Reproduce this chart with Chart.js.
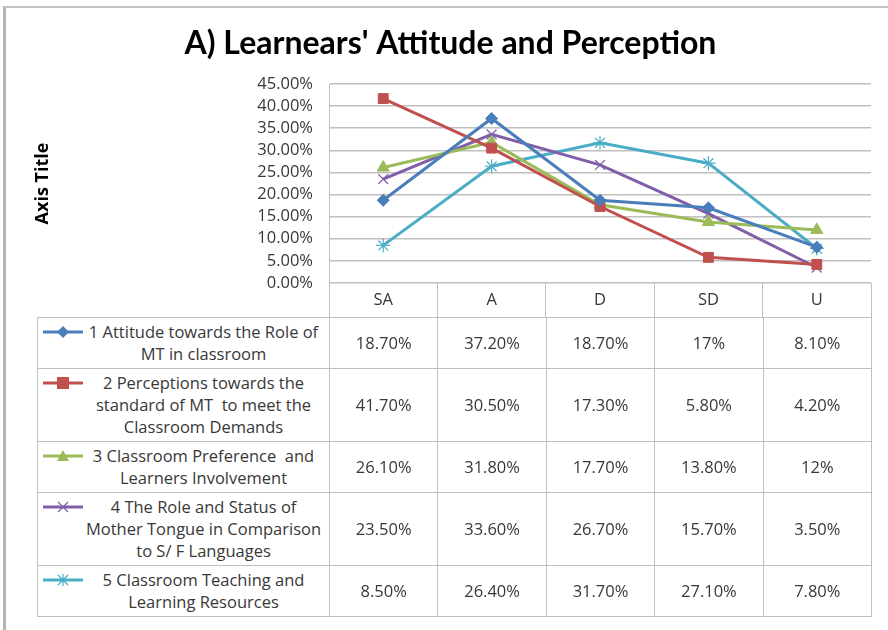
<!DOCTYPE html>
<html>
<head>
<meta charset="utf-8">
<script src="https://cdn.jsdelivr.net/npm/chart.js@4.4.1/dist/chart.umd.min.js"></script>
<style>
  html, body { margin: 0; padding: 0; background: #fff; }
  #wrap { position: relative; width: 888px; height: 630px; overflow: hidden; }
  #frame { position: absolute; left: 3px; top: 6px; width: 900px; height: 640px;
           border-left: 3px solid #b4b4b4; border-top: 2px solid #c4c4c4; box-sizing: border-box; }
  #chart { position: absolute; left: 0; top: 0; }
  #tbl { position: absolute; border-collapse: collapse; table-layout: fixed;
         font-family: "Open Sans", sans-serif; font-size: 16.5px; color: #383838; }
  #tbl td { border: 1px solid #c0c0c0; text-align: center; vertical-align: middle;
            line-height: 22px; padding: 3px 0; background: #fff; white-space: pre; }
  #tbl td.lab { position: relative; padding-left: 42px; padding-right: 2px; }
  #tbl td.lab svg { position: absolute; left: 5px; top: 7px; }
</style>
</head>
<body>
<div id="wrap">
  <div id="frame"></div>
  <canvas id="chart" width="888" height="630"></canvas>
  <table id="tbl"></table>
</div>
<script>
// categories and series
const categories = ['SA', 'A', 'D', 'SD', 'U'];
const seriesNames = [
  ['1 Attitude towards the Role of', 'MT in classroom'],
  ['2 Perceptions towards the', 'standard of MT  to meet the', 'Classroom Demands'],
  ['3 Classroom Preference  and', 'Learners Involvement'],
  ['4 The Role and Status of', 'Mother Tongue in Comparison', 'to S/ F Languages'],
  ['5 Classroom Teaching and', 'Learning Resources']
];
const attitudeRole = [18.7, 37.2, 18.7, 17, 8.1];
const perceptionStandard = [41.7, 30.5, 17.3, 5.8, 4.2];
const classroomPreference = [26.1, 31.8, 17.7, 13.8, 12];
const roleStatus = [23.5, 33.6, 26.7, 15.7, 3.5];
const teachingResources = [8.5, 26.4, 31.7, 27.1, 7.8];
// table text as printed
const tableText = [
  ['18.70%', '37.20%', '18.70%', '17%', '8.10%'],
  ['41.70%', '30.50%', '17.30%', '5.80%', '4.20%'],
  ['26.10%', '31.80%', '17.70%', '13.80%', '12%'],
  ['23.50%', '33.60%', '26.70%', '15.70%', '3.50%'],
  ['8.50%', '26.40%', '31.70%', '27.10%', '7.80%']
];
const yTicks = [0, 5, 10, 15, 20, 25, 30, 35, 40, 45];

const colors = ['#4a7ebb', '#c0504d', '#9bbb59', '#7f5fa8', '#4bacc6'];
const markers = ['rectRot', 'rect', 'triangle', 'crossRot', 'star'];
const radii = [6, 7, 7, 7, 7];
const allValues = [attitudeRole, perceptionStandard, classroomPreference, roleStatus, teachingResources];

// small legend key for the table
function keySvg(i) {
  const c = colors[i];
  let m = '';
  if (i === 0) m = '<polygon points="20,1 26,7 20,13 14,7" fill="' + c + '"/>';
  if (i === 1) m = '<rect x="14" y="1" width="12" height="12" fill="' + c + '"/>';
  if (i === 2) m = '<polygon points="20,1 26,12 14,12" fill="' + c + '"/>';
  if (i === 3) m = '<path d="M15,2 L25,12 M25,2 L15,12" stroke="' + c + '" stroke-width="1.2"/>';
  if (i === 4) m = '<path d="M15,2 L25,12 M25,2 L15,12 M20,1 L20,13" stroke="' + c + '" stroke-width="1.2"/>';
  return '<svg width="40" height="14"><line x1="0" y1="7" x2="40" y2="7" stroke="' + c + '" stroke-width="3"/>' + m + '</svg>';
}

const tbl = document.getElementById('tbl');
let html = '<colgroup><col id="c0">' + categories.map(() => '<col class="cc">').join('') + '</colgroup>';
seriesNames.forEach((lines, i) => {
  html += '<tr><td class="lab">' + keySvg(i) + lines.join('<br>') + '</td>';
  tableText[i].forEach(t => { html += '<td>' + t + '</td>'; });
  html += '</tr>';
});
tbl.innerHTML = html;

// place the table under the category header using the chart's own layout
const tablePlacer = {
  id: 'tablePlacer',
  afterLayout(chart) {
    const a = chart.chartArea;
    const x = chart.scales.x;
    const left = 37;
    tbl.style.left = left + 'px';
    tbl.style.top = x.bottom + 'px';
    tbl.style.width = (a.right - left + 1) + 'px';
    document.getElementById('c0').style.width = (a.left - left) + 'px';
    document.querySelectorAll('#tbl col.cc').forEach(c => { c.style.width = (a.width / categories.length) + 'px'; });
  }
};

const ctx = document.getElementById('chart').getContext('2d');
new Chart(ctx, {
  type: 'line',
  data: {
    labels: categories,
    datasets: allValues.map((v, i) => ({
      label: seriesNames[i].join(' '),
      data: v,
      borderColor: colors[i],
      backgroundColor: colors[i],
      borderWidth: 3,
      pointStyle: markers[i],
      pointRadius: radii[i],
      pointBorderWidth: i >= 3 ? 1.2 : 1,
      pointBorderColor: colors[i],
      tension: 0
    }))
  },
  options: {
    responsive: false,
    animation: false,
    layout: { padding: { left: 30, right: 17, top: 0, bottom: 313 } },
    plugins: {
      legend: { display: false },
      tooltip: { enabled: false },
      title: {
        display: true,
        text: "A) Learnears' Attitude and Perception",
        color: '#000',
        font: { family: 'Lato', size: 32, weight: 'bold' },
        padding: { top: 24, bottom: 21.6 }
      }
    },
    scales: {
      x: {
        offset: true,
        grid: { offset: true, drawOnChartArea: false, drawTicks: true, tickLength: 34, color: '#c0c0c0' },
        border: { display: false },
        ticks: { color: '#383838', padding: -27, font: { family: 'Open Sans', size: 16.5 } },
        afterFit(s) { s.height = 34; }
      },
      y: {
        min: 0,
        max: 45,
        afterBuildTicks(s) { s.ticks = yTicks.map(v => ({ value: v })); },
        ticks: {
          color: '#383838',
          padding: 16,
          autoSkip: false,
          font: { family: 'Open Sans', size: 16.5 },
          callback: v => v.toFixed(2) + '%'
        },
        grid: { color: '#c0c0c0', lineWidth: 1.5, drawTicks: false },
        border: { display: true, color: '#c0c0c0', width: 1 },
        title: {
          display: true,
          text: 'Axis Title',
          color: '#000',
          font: { family: 'Open Sans', size: 18, weight: 'bold' },
          padding: { top: 2, bottom: 0 }
        },
        afterFit(s) { s.width = 299; }
      }
    }
  },
  plugins: [tablePlacer]
});
</script>
</body>
</html>
